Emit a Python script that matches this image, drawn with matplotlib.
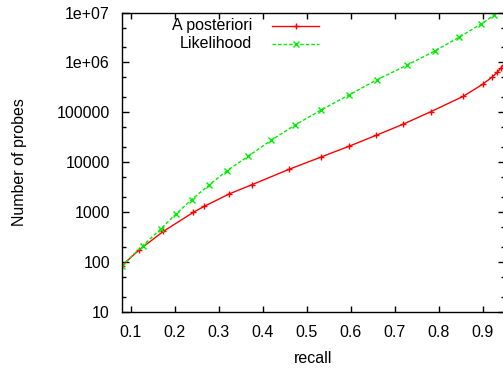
import matplotlib
matplotlib.use("Agg")
import matplotlib.pyplot as plt
from matplotlib.ticker import LogLocator, FixedLocator, FixedFormatter, NullFormatter
from matplotlib.lines import Line2D

plt.rcParams['font.family'] = ['Liberation Sans', 'DejaVu Sans']

# Data
post_recall = [0.0789, 0.1189, 0.1735, 0.2417, 0.2667, 0.3236, 0.3759, 0.4601,
               0.5315, 0.5966, 0.6573, 0.7181, 0.7824, 0.8559, 0.9000, 0.9219,
               0.9333, 0.9420, 0.9520]
post_probes = [84, 176, 411, 991, 1309, 2323, 3572, 7245,
               12640, 21030, 34500, 57400, 103300, 209700, 365500, 512600,
               636800, 780000, 1050000]

like_recall = [0.0789, 0.1266, 0.1676, 0.2024, 0.2381, 0.2781, 0.3191, 0.3668,
               0.4185, 0.4731, 0.5322, 0.5959, 0.6589, 0.7279, 0.7916, 0.8468,
               0.8962, 0.9265, 0.9560]
like_probes = [84, 212, 459, 920, 1783, 3522, 6825, 13240,
               27360, 55570, 111200, 222800, 446000, 880600, 1708000, 3218000,
               5870000, 8900000, 14500000]

series_labels = ["A posteriori", "Likelihood"]
x_ticks = [0.1, 0.2, 0.3, 0.4, 0.5, 0.6, 0.7, 0.8, 0.9]
x_ticklabels = ["0.1", "0.2", "0.3", "0.4", "0.5", "0.6", "0.7", "0.8", "0.9"]
y_ticks = [10, 100, 1000, 10000, 100000, 1e6, 1e7]
y_ticklabels = ["10", "100", "1000", "10000", "100000", "1e+06", "1e+07"]

RED = "#ff0000"
GREEN = "#00ee00"
FS = 11.5

W, H = 503, 368
fig = plt.figure(figsize=(W / 100, H / 100), dpi=100)
left_px, right_px, top_px, bottom_px = 121.7, 504.7, 12.5, 312.0
ax = fig.add_axes([left_px / W, 1 - bottom_px / H,
                   (right_px - left_px) / W, (bottom_px - top_px) / H])

ax.plot(post_recall, post_probes, color=RED, lw=1.0, marker='+', ms=5.0, mew=1.0)
ax.plot(like_recall, like_probes, color=GREEN, lw=1.0, ls=(0, (2.5, 1.5)),
        marker='x', ms=4.2, mew=1.0)

ax.set_yscale('log')
ax.set_xlim(0.079, 0.95)
ax.set_ylim(10, 1e7)

ax.xaxis.set_major_locator(FixedLocator(x_ticks))
ax.xaxis.set_major_formatter(FixedFormatter(x_ticklabels))
ax.yaxis.set_major_locator(FixedLocator(y_ticks))
ax.yaxis.set_major_formatter(FixedFormatter(y_ticklabels))
ax.yaxis.set_minor_locator(LogLocator(base=10, subs=(2.0, 5.0)))
ax.yaxis.set_minor_formatter(NullFormatter())

ax.tick_params(which='both', direction='in', top=True, right=True,
               labelsize=FS, width=1.0, color='black')
ax.tick_params(axis='x', which='major', length=4.5, pad=9.5)
ax.tick_params(axis='y', which='major', length=5, pad=8.5)
ax.tick_params(axis='y', which='minor', length=3)
for sp in ax.spines.values():
    sp.set_linewidth(1.0)

ax.set_xlabel("recall", fontsize=FS, labelpad=8)
ax.set_ylabel("Number of probes", fontsize=FS, labelpad=21)

# Legend (gnuplot style: text right-aligned, sample to the right)
def px2ax(x, y):
    return ((x - left_px) / (right_px - left_px), (bottom_px - y) / (bottom_px - top_px))

for i, (lab, col, ls, mk, ms) in enumerate([
        (series_labels[0], RED, '-', '+', 5.0),
        (series_labels[1], GREEN, (0, (2.5, 1.5)), 'x', 4.2)]):
    yy = 25.5 + i * 18
    tx, ty = px2ax(252, yy)
    ax.text(tx, ty, lab, transform=ax.transAxes, ha='right', va='center', fontsize=FS)
    x0, y0 = px2ax(272, yy)
    x1, _ = px2ax(319, yy)
    xm, _ = px2ax(295.5, yy)
    ax.add_line(Line2D([x0, x1], [y0, y0], transform=ax.transAxes, color=col, lw=1.0, ls=ls))
    ax.add_line(Line2D([xm], [y0], transform=ax.transAxes, color=col, marker=mk,
                       ms=ms, mew=1.0, ls='none'))

fig.savefig("out.png", dpi=100)
